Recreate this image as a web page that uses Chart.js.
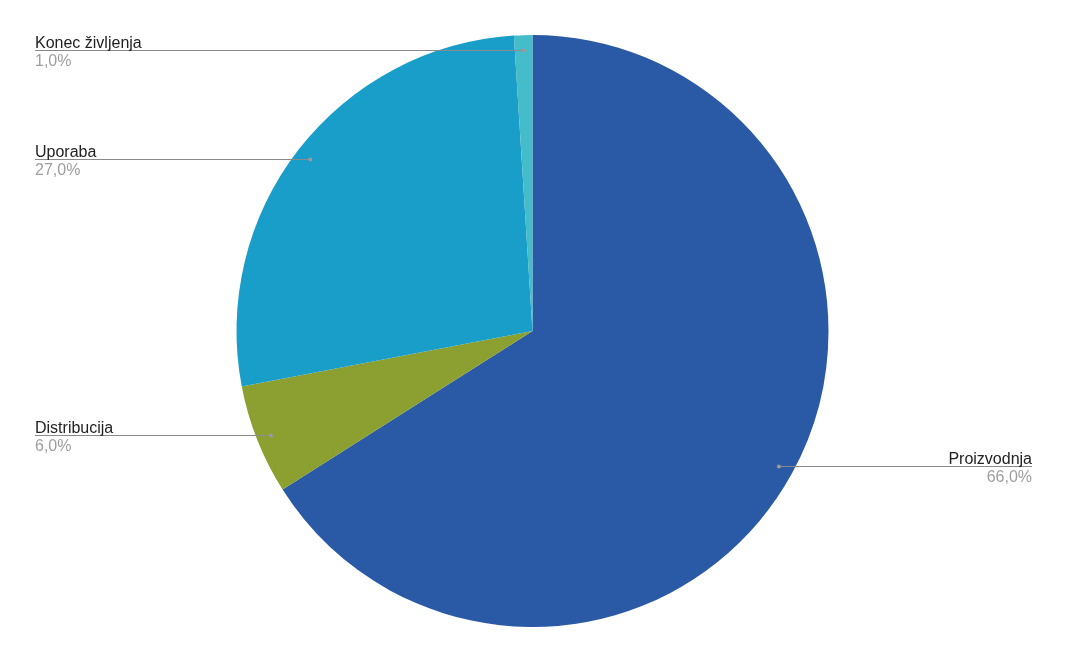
<!DOCTYPE html>
<html lang="sl">
<head>
  <meta charset="UTF-8">
  <title>Delež po fazah</title>
  <style>
    html, body {
      margin: 0;
      padding: 0;
      background: #ffffff;
    }
    #pieChart {
      display: block;
    }
  </style>
</head>
<body>
  <canvas id="pieChart" width="1065" height="660"></canvas>

  <script src="https://cdn.jsdelivr.net/npm/chart.js"></script>
  <script>
    // data
    const categories = ['Proizvodnja', 'Distribucija', 'Uporaba', 'Konec življenja'];
    const shares = [66, 6, 27, 1];
    const sliceColors = ['#2a5aa5', '#8ba031', '#199dc9', '#45bcc9'];

    const fmt = v => v.toFixed(1).replace('.', ',') + '%';

    // leader lines + labels on the sides, like the original
    const sideLabels = {
      id: 'sideLabels',
      afterDatasetsDraw(chart) {
        const c = chart.ctx;
        const meta = chart.getDatasetMeta(0);
        const total = shares.reduce((a, b) => a + b, 0);
        const leftX = 35;
        const rightX = 1032;

        meta.data.forEach((arc, i) => {
          const mid = (arc.startAngle + arc.endAngle) / 2;
          const r = arc.outerRadius * 0.95;
          const dx = arc.x + Math.cos(mid) * r;
          const dy = Math.round(arc.y + Math.sin(mid) * r);
          const onRight = Math.cos(mid) > 0;
          const endX = onRight ? rightX : leftX;

          c.save();
          c.strokeStyle = '#8a8a8a';
          c.lineWidth = 1;
          c.beginPath();
          c.moveTo(dx, dy + 0.5);
          c.lineTo(endX, dy + 0.5);
          c.stroke();

          c.fillStyle = '#9a9a9a';
          c.beginPath();
          c.arc(dx, dy + 0.5, 2, 0, Math.PI * 2);
          c.fill();

          c.font = '16px "Liberation Sans", Arial, sans-serif';
          c.textAlign = onRight ? 'right' : 'left';
          c.textBaseline = 'alphabetic';
          c.fillStyle = '#222222';
          c.fillText(categories[i], endX, dy - 2);
          c.fillStyle = '#9e9e9e';
          c.fillText(fmt(shares[i] / total * 100), endX, dy + 16);
          c.restore();
        });
      }
    };

    const ctx = document.getElementById('pieChart').getContext('2d');
    new Chart(ctx, {
      type: 'pie',
      data: {
        labels: categories,
        datasets: [{
          data: shares,
          backgroundColor: sliceColors,
          borderWidth: 0
        }]
      },
      options: {
        responsive: false,
        animation: false,
        layout: {
          padding: { top: 35, bottom: 33, left: 0, right: 0 }
        },
        plugins: {
          legend: { display: false },
          tooltip: { enabled: false }
        }
      },
      plugins: [sideLabels]
    });
  </script>
</body>
</html>
